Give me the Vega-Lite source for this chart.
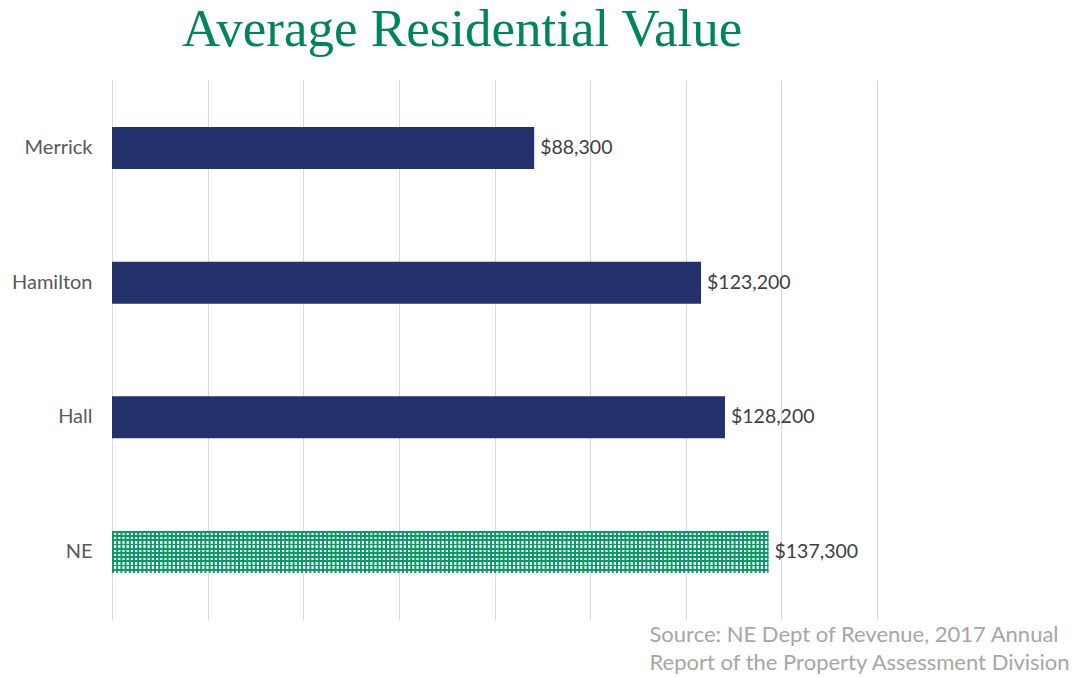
{
  "$schema": "https://vega.github.io/schema/vega-lite/v6.json",
  "width": 765,
  "height": 540,
  "autosize": {"type": "none"},
  "padding": {"left": 112, "top": 80, "right": 210, "bottom": 57},
  "background": "white",
  "config": {"view": {"stroke": null}},
  "title": {
    "text": "Average Residential Value",
    "font": "Liberation Serif",
    "fontSize": 53,
    "fontWeight": "normal",
    "color": "#00845A",
    "anchor": "start",
    "frame": "group",
    "dx": 70,
    "dy": 54,
    "baseline": "alphabetic",
    "offset": 35
  },
  "data": {
    "values": [
      {"county": "Merrick", "value": 88300},
      {"county": "Hamilton", "value": 123200},
      {"county": "Hall", "value": 128200},
      {"county": "NE", "value": 137300}
    ]
  },
  "encoding": {
    "y": {
      "field": "county",
      "type": "nominal",
      "sort": null,
      "scale": {"paddingInner": 0.688, "paddingOuter": 0.349},
      "axis": {
        "title": null,
        "ticks": false,
        "domain": false,
        "labelFont": "Lato",
        "labelFontSize": 20,
        "labelColor": "#595959",
        "labelPadding": 20
      }
    },
    "x": {
      "field": "value",
      "type": "quantitative",
      "scale": {"domain": [0, 160000], "nice": false},
      "axis": {
        "values": [0, 20000, 40000, 60000, 80000, 100000, 120000, 140000, 160000],
        "grid": true,
        "gridColor": "#d9d9d9",
        "gridWidth": 1,
        "labels": false,
        "ticks": false,
        "domain": false,
        "title": ["Source: NE Dept of Revenue, 2017 Annual", "Report of the Property Assessment Division"],
        "titleFont": "Lato",
        "titleFontSize": 22,
        "titleFontWeight": "normal",
        "titleColor": "#a6a6a6",
        "titleAlign": "left",
        "titleAnchor": "start",
        "titleBaseline": "alphabetic",
        "titleX": 537,
        "titleY": 21,
        "titleLineHeight": 28
      }
    }
  },
  "layer": [
    {
      "transform": [{"filter": "datum.county !== 'NE'"}],
      "mark": {"type": "bar", "color": "#22306C"}
    },
    {
      "transform": [{"filter": "datum.county === 'NE'"}],
      "mark": {
        "type": "bar",
        "fill": {
          "gradient": "linear",
          "x1": 0, "y1": 0, "x2": 0, "y2": 1,
          "stops": [
            {"offset": 0, "color": "#0A9A68"}, {"offset": 0.045, "color": "#0A9A68"}, {"offset": 0.045, "color": "#FFFFFF"}, {"offset": 0.1, "color": "#FFFFFF"},
            {"offset": 0.1, "color": "#0A9A68"}, {"offset": 0.145, "color": "#0A9A68"}, {"offset": 0.145, "color": "#FFFFFF"}, {"offset": 0.2, "color": "#FFFFFF"},
            {"offset": 0.2, "color": "#0A9A68"}, {"offset": 0.245, "color": "#0A9A68"}, {"offset": 0.245, "color": "#FFFFFF"}, {"offset": 0.3, "color": "#FFFFFF"},
            {"offset": 0.3, "color": "#0A9A68"}, {"offset": 0.345, "color": "#0A9A68"}, {"offset": 0.345, "color": "#FFFFFF"}, {"offset": 0.4, "color": "#FFFFFF"},
            {"offset": 0.4, "color": "#0A9A68"}, {"offset": 0.445, "color": "#0A9A68"}, {"offset": 0.445, "color": "#FFFFFF"}, {"offset": 0.5, "color": "#FFFFFF"},
            {"offset": 0.5, "color": "#0A9A68"}, {"offset": 0.545, "color": "#0A9A68"}, {"offset": 0.545, "color": "#FFFFFF"}, {"offset": 0.6, "color": "#FFFFFF"},
            {"offset": 0.6, "color": "#0A9A68"}, {"offset": 0.645, "color": "#0A9A68"}, {"offset": 0.645, "color": "#FFFFFF"}, {"offset": 0.7, "color": "#FFFFFF"},
            {"offset": 0.7, "color": "#0A9A68"}, {"offset": 0.745, "color": "#0A9A68"}, {"offset": 0.745, "color": "#FFFFFF"}, {"offset": 0.8, "color": "#FFFFFF"},
            {"offset": 0.8, "color": "#0A9A68"}, {"offset": 0.845, "color": "#0A9A68"}, {"offset": 0.845, "color": "#FFFFFF"}, {"offset": 0.9, "color": "#FFFFFF"},
            {"offset": 0.9, "color": "#0A9A68"}, {"offset": 0.945, "color": "#0A9A68"}, {"offset": 0.945, "color": "#FFFFFF"}, {"offset": 1, "color": "#FFFFFF"}
          ]
        }
      }
    },
    {
      "transform": [{"filter": "datum.county === 'NE'"}],
      "mark": {
        "type": "rule",
        "color": "#0A9A68",
        "strokeWidth": 42,
        "strokeCap": "butt",
        "strokeDash": [2, 2.2]
      },
      "encoding": {
        "x": {"datum": 0},
        "x2": {"field": "value"}
      }
    },
    {
      "mark": {
        "type": "text",
        "align": "left",
        "baseline": "middle",
        "dx": 6,
        "font": "Lato",
        "fontSize": 19.5,
        "color": "#404040"
      },
      "encoding": {
        "text": {"field": "value", "type": "quantitative", "format": "$,.0f"}
      }
    }
  ]
}
